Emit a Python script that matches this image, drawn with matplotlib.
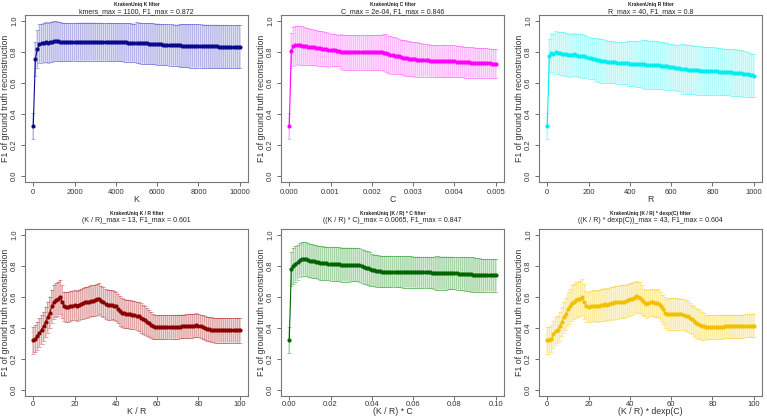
import numpy as np
import matplotlib
matplotlib.use("Agg")
import matplotlib.pyplot as plt

plt.rcParams['font.family'] = ['Liberation Sans', 'DejaVu Sans']

# parameter grids (101 thresholds per filter)
k_grid = np.linspace(0, 10000, 101)
c_grid = np.linspace(0, 0.005, 101)
r_grid = np.linspace(0, 1000, 101)
kr_grid = np.linspace(0, 100, 101)
krc_grid = np.linspace(0, 0.1, 101)
krd_grid = np.linspace(0, 100, 101)

# mean F1 and its sd
k_f1 = [0.320, 0.755, 0.820, 0.855, 0.858, 0.862, 0.865, 0.860, 0.864, 0.867,
        0.870, 0.872, 0.870, 0.868, 0.866, 0.866, 0.865, 0.865, 0.865, 0.866,
        0.866, 0.867, 0.867, 0.868, 0.868, 0.868, 0.868, 0.868, 0.868, 0.868,
        0.868, 0.867, 0.867, 0.867, 0.866, 0.866, 0.866, 0.866, 0.865, 0.865,
        0.865, 0.865, 0.864, 0.864, 0.863, 0.863, 0.862, 0.862, 0.861, 0.861,
        0.860, 0.859, 0.858, 0.857, 0.856, 0.856, 0.855, 0.855, 0.854, 0.853,
        0.852, 0.851, 0.850, 0.849, 0.848, 0.847, 0.846, 0.846, 0.845, 0.845,
        0.844, 0.843, 0.842, 0.842, 0.841, 0.841, 0.840, 0.840, 0.840, 0.839,
        0.839, 0.839, 0.838, 0.838, 0.838, 0.838, 0.837, 0.837, 0.837, 0.837,
        0.836, 0.836, 0.836, 0.836, 0.836, 0.835, 0.835, 0.835, 0.835, 0.835,
        0.835]
k_sd = [0.085, 0.110, 0.122, 0.125, 0.126, 0.127, 0.128, 0.128, 0.130, 0.130,
        0.130, 0.128, 0.127, 0.126, 0.125, 0.124, 0.124, 0.123, 0.123, 0.123,
        0.123, 0.123, 0.123, 0.123, 0.123, 0.123, 0.123, 0.123, 0.123, 0.123,
        0.123, 0.123, 0.123, 0.123, 0.123, 0.123, 0.123, 0.123, 0.123, 0.123,
        0.123, 0.123, 0.124, 0.124, 0.124, 0.124, 0.124, 0.124, 0.124, 0.124,
        0.132, 0.132, 0.132, 0.132, 0.132, 0.132, 0.132, 0.132, 0.132, 0.132,
        0.133, 0.133, 0.133, 0.133, 0.133, 0.133, 0.133, 0.133, 0.133, 0.133,
        0.134, 0.140, 0.140, 0.140, 0.140, 0.140, 0.140, 0.140, 0.140, 0.140,
        0.140, 0.140, 0.140, 0.140, 0.140, 0.140, 0.140, 0.140, 0.140, 0.140,
        0.140, 0.140, 0.140, 0.140, 0.140, 0.140, 0.140, 0.140, 0.140, 0.140,
        0.140]

c_f1 = [0.320, 0.810, 0.838, 0.845, 0.846, 0.844, 0.842, 0.840, 0.838, 0.836,
        0.834, 0.832, 0.830, 0.828, 0.826, 0.825, 0.822, 0.820, 0.818, 0.816,
        0.814, 0.812, 0.811, 0.810, 0.810, 0.802, 0.800, 0.799, 0.799, 0.798,
        0.798, 0.798, 0.798, 0.798, 0.798, 0.798, 0.798, 0.798, 0.798, 0.798,
        0.798, 0.798, 0.798, 0.798, 0.798, 0.798, 0.796, 0.792, 0.785, 0.782,
        0.780, 0.778, 0.775, 0.772, 0.768, 0.765, 0.762, 0.760, 0.758, 0.756,
        0.755, 0.754, 0.752, 0.750, 0.749, 0.748, 0.747, 0.746, 0.745, 0.744,
        0.743, 0.742, 0.742, 0.741, 0.741, 0.740, 0.740, 0.740, 0.740, 0.740,
        0.740, 0.739, 0.738, 0.737, 0.736, 0.735, 0.734, 0.733, 0.732, 0.732,
        0.731, 0.731, 0.730, 0.730, 0.730, 0.729, 0.728, 0.727, 0.726, 0.726,
        0.725]
c_sd = [0.085, 0.113, 0.125, 0.126, 0.126, 0.125, 0.124, 0.122, 0.120, 0.118,
        0.117, 0.116, 0.115, 0.114, 0.113, 0.112, 0.112, 0.111, 0.110, 0.110,
        0.105, 0.104, 0.103, 0.102, 0.102, 0.112, 0.113, 0.113, 0.113, 0.113,
        0.113, 0.113, 0.113, 0.113, 0.113, 0.113, 0.113, 0.113, 0.113, 0.113,
        0.113, 0.113, 0.113, 0.113, 0.113, 0.113, 0.118, 0.122, 0.122, 0.122,
        0.120, 0.118, 0.115, 0.112, 0.112, 0.115, 0.115, 0.114, 0.113, 0.112,
        0.112, 0.112, 0.111, 0.110, 0.108, 0.106, 0.105, 0.104, 0.104, 0.103,
        0.103, 0.103, 0.103, 0.103, 0.103, 0.103, 0.103, 0.103, 0.103, 0.103,
        0.103, 0.102, 0.101, 0.100, 0.100, 0.100, 0.099, 0.099, 0.098, 0.098,
        0.097, 0.097, 0.097, 0.097, 0.096, 0.096, 0.096, 0.096, 0.095, 0.095,
        0.095]

r_f1 = [0.320, 0.775, 0.795, 0.790, 0.800, 0.795, 0.792, 0.790, 0.788, 0.785,
        0.782, 0.780, 0.782, 0.785, 0.783, 0.778, 0.776, 0.774, 0.772, 0.768,
        0.762, 0.760, 0.758, 0.754, 0.750, 0.746, 0.744, 0.742, 0.740, 0.738,
        0.736, 0.735, 0.734, 0.733, 0.732, 0.731, 0.730, 0.729, 0.728, 0.727,
        0.726, 0.725, 0.725, 0.724, 0.723, 0.722, 0.721, 0.720, 0.719, 0.718,
        0.718, 0.717, 0.716, 0.715, 0.714, 0.713, 0.712, 0.710, 0.708, 0.706,
        0.705, 0.703, 0.700, 0.698, 0.696, 0.692, 0.690, 0.688, 0.687, 0.686,
        0.685, 0.684, 0.683, 0.682, 0.681, 0.680, 0.680, 0.679, 0.678, 0.678,
        0.677, 0.676, 0.675, 0.674, 0.673, 0.672, 0.671, 0.670, 0.670, 0.669,
        0.668, 0.667, 0.665, 0.664, 0.662, 0.660, 0.658, 0.656, 0.653, 0.650,
        0.648]
r_sd = [0.085, 0.110, 0.125, 0.130, 0.135, 0.138, 0.140, 0.140, 0.140, 0.140,
        0.138, 0.138, 0.138, 0.137, 0.137, 0.138, 0.140, 0.140, 0.140, 0.138,
        0.133, 0.132, 0.132, 0.140, 0.142, 0.142, 0.142, 0.140, 0.138, 0.137,
        0.137, 0.136, 0.136, 0.135, 0.135, 0.135, 0.135, 0.135, 0.136, 0.145,
        0.147, 0.147, 0.147, 0.147, 0.147, 0.147, 0.155, 0.157, 0.157, 0.157,
        0.157, 0.156, 0.156, 0.155, 0.154, 0.153, 0.152, 0.152, 0.150, 0.148,
        0.148, 0.147, 0.147, 0.147, 0.147, 0.162, 0.162, 0.161, 0.160, 0.159,
        0.159, 0.158, 0.158, 0.157, 0.157, 0.156, 0.156, 0.156, 0.155, 0.155,
        0.155, 0.154, 0.153, 0.152, 0.151, 0.150, 0.150, 0.150, 0.150, 0.150,
        0.150, 0.150, 0.150, 0.150, 0.149, 0.149, 0.147, 0.145, 0.143, 0.141,
        0.140]

kr_f1 = [0.320, 0.330, 0.350, 0.370, 0.390, 0.410, 0.440, 0.470, 0.500, 0.540,
         0.570, 0.580, 0.590, 0.601, 0.570, 0.540, 0.535, 0.535, 0.540, 0.545,
         0.550, 0.545, 0.550, 0.555, 0.560, 0.565, 0.565, 0.570, 0.575, 0.575,
         0.580, 0.585, 0.590, 0.575, 0.565, 0.555, 0.550, 0.550, 0.550, 0.545,
         0.540, 0.525, 0.510, 0.500, 0.495, 0.490, 0.490, 0.488, 0.485, 0.485,
         0.480, 0.475, 0.465, 0.455, 0.450, 0.440, 0.430, 0.420, 0.410, 0.405,
         0.405, 0.405, 0.405, 0.405, 0.406, 0.406, 0.406, 0.407, 0.407, 0.408,
         0.408, 0.409, 0.410, 0.410, 0.411, 0.412, 0.413, 0.414, 0.415, 0.418,
         0.415, 0.410, 0.405, 0.400, 0.395, 0.392, 0.390, 0.387, 0.385, 0.385,
         0.385, 0.385, 0.385, 0.385, 0.385, 0.385, 0.385, 0.385, 0.385, 0.385,
         0.385]
kr_sd = [0.087, 0.088, 0.090, 0.092, 0.094, 0.095, 0.098, 0.100, 0.103, 0.106,
         0.110, 0.110, 0.110, 0.110, 0.105, 0.095, 0.095, 0.095, 0.096, 0.096,
         0.097, 0.097, 0.098, 0.098, 0.099, 0.100, 0.100, 0.100, 0.100, 0.100,
         0.100, 0.100, 0.100, 0.098, 0.097, 0.097, 0.097, 0.096, 0.095, 0.095,
         0.095, 0.096, 0.096, 0.095, 0.093, 0.092, 0.092, 0.092, 0.091, 0.091,
         0.090, 0.092, 0.095, 0.095, 0.093, 0.090, 0.088, 0.085, 0.082, 0.078,
         0.077, 0.077, 0.077, 0.077, 0.077, 0.077, 0.077, 0.077, 0.077, 0.077,
         0.077, 0.077, 0.077, 0.077, 0.077, 0.077, 0.077, 0.077, 0.076, 0.076,
         0.076, 0.077, 0.078, 0.078, 0.079, 0.079, 0.080, 0.080, 0.080, 0.080,
         0.080, 0.080, 0.080, 0.080, 0.080, 0.080, 0.080, 0.080, 0.080, 0.080,
         0.080]

krc_f1 = [0.320, 0.780, 0.800, 0.815, 0.825, 0.840, 0.845, 0.847, 0.845, 0.840,
          0.835, 0.834, 0.830, 0.828, 0.825, 0.820, 0.820, 0.818, 0.818, 0.816,
          0.815, 0.815, 0.814, 0.813, 0.812, 0.810, 0.810, 0.810, 0.810, 0.810,
          0.810, 0.810, 0.810, 0.810, 0.806, 0.800, 0.795, 0.790, 0.785, 0.780,
          0.775, 0.772, 0.770, 0.768, 0.766, 0.765, 0.765, 0.765, 0.765, 0.765,
          0.765, 0.764, 0.764, 0.763, 0.763, 0.762, 0.762, 0.762, 0.762, 0.762,
          0.761, 0.761, 0.761, 0.760, 0.760, 0.760, 0.760, 0.760, 0.759, 0.758,
          0.756, 0.755, 0.755, 0.755, 0.755, 0.755, 0.755, 0.755, 0.755, 0.755,
          0.754, 0.753, 0.752, 0.751, 0.750, 0.750, 0.748, 0.747, 0.746, 0.745,
          0.744, 0.743, 0.742, 0.741, 0.740, 0.740, 0.740, 0.740, 0.740, 0.740,
          0.740]
krc_sd = [0.085, 0.110, 0.118, 0.115, 0.112, 0.108, 0.108, 0.108, 0.108, 0.108,
          0.108, 0.108, 0.108, 0.108, 0.108, 0.108, 0.108, 0.108, 0.108, 0.108,
          0.110, 0.110, 0.110, 0.110, 0.110, 0.110, 0.110, 0.110, 0.110, 0.110,
          0.108, 0.108, 0.108, 0.108, 0.108, 0.108, 0.108, 0.108, 0.110, 0.110,
          0.105, 0.103, 0.103, 0.102, 0.102, 0.102, 0.102, 0.102, 0.102, 0.102,
          0.101, 0.101, 0.101, 0.101, 0.101, 0.101, 0.101, 0.101, 0.101, 0.101,
          0.101, 0.101, 0.101, 0.101, 0.101, 0.101, 0.101, 0.101, 0.101, 0.101,
          0.102, 0.108, 0.108, 0.107, 0.107, 0.107, 0.107, 0.106, 0.106, 0.106,
          0.105, 0.105, 0.105, 0.106, 0.107, 0.108, 0.110, 0.110, 0.112, 0.112,
          0.110, 0.109, 0.108, 0.107, 0.106, 0.105, 0.105, 0.105, 0.105, 0.105,
          0.105]

krd_f1 = [0.320, 0.320, 0.330, 0.360, 0.380, 0.390, 0.410, 0.440, 0.470, 0.490,
          0.520, 0.540, 0.560, 0.570, 0.580, 0.585, 0.590, 0.600, 0.570, 0.540,
          0.535, 0.540, 0.545, 0.545, 0.540, 0.545, 0.550, 0.550, 0.555, 0.550,
          0.555, 0.560, 0.560, 0.565, 0.565, 0.570, 0.570, 0.570, 0.575, 0.580,
          0.585, 0.590, 0.595, 0.604, 0.600, 0.595, 0.580, 0.565, 0.555, 0.560,
          0.565, 0.565, 0.560, 0.560, 0.555, 0.540, 0.520, 0.500, 0.490, 0.490,
          0.490, 0.490, 0.490, 0.490, 0.490, 0.490, 0.485, 0.480, 0.475, 0.465,
          0.455, 0.445, 0.430, 0.425, 0.420, 0.415, 0.410, 0.405, 0.405, 0.405,
          0.405, 0.405, 0.405, 0.405, 0.405, 0.405, 0.410, 0.410, 0.410, 0.410,
          0.410, 0.410, 0.410, 0.410, 0.410, 0.410, 0.415, 0.415, 0.415, 0.415,
          0.415]
krd_sd = [0.087, 0.087, 0.088, 0.088, 0.089, 0.090, 0.092, 0.095, 0.100, 0.105,
          0.110, 0.112, 0.115, 0.115, 0.115, 0.115, 0.115, 0.117, 0.115, 0.100,
          0.097, 0.100, 0.100, 0.100, 0.102, 0.102, 0.102, 0.104, 0.104, 0.105,
          0.105, 0.105, 0.106, 0.106, 0.108, 0.108, 0.108, 0.107, 0.106, 0.105,
          0.105, 0.103, 0.102, 0.100, 0.100, 0.100, 0.095, 0.088, 0.088, 0.088,
          0.088, 0.088, 0.088, 0.090, 0.092, 0.093, 0.095, 0.098, 0.100, 0.102,
          0.102, 0.102, 0.101, 0.101, 0.100, 0.100, 0.100, 0.100, 0.098, 0.096,
          0.095, 0.097, 0.098, 0.095, 0.093, 0.090, 0.085, 0.078, 0.076, 0.076,
          0.076, 0.076, 0.076, 0.076, 0.076, 0.076, 0.076, 0.076, 0.076, 0.076,
          0.076, 0.076, 0.076, 0.076, 0.076, 0.076, 0.076, 0.076, 0.076, 0.076,
          0.076]

titles = ["KrakenUniq K filter", "KrakenUniq C filter", "KrakenUniq R filter",
          "KrakenUniq K / R filter", "KrakenUniq (K / R) * C filter",
          "KrakenUniq (K / R) * dexp(C) filter"]
subtitles = ["kmers_max = 1100, F1_max = 0.872",
             "C_max = 2e-04, F1_max = 0.846",
             "R_max = 40, F1_max = 0.8",
             "(K / R)_max = 13, F1_max = 0.601",
             "((K / R) * C)_max = 0.0065, F1_max = 0.847",
             "((K / R) * dexp(C))_max = 43, F1_max = 0.604"]
xlabels = ["K", "C", "R", "K / R", "(K / R) * C", "(K / R) * dexp(C)"]
xtick_vals = [[0, 2000, 4000, 6000, 8000, 10000],
              [0, 0.001, 0.002, 0.003, 0.004, 0.005],
              [0, 200, 400, 600, 800, 1000],
              [0, 20, 40, 60, 80, 100],
              [0, 0.02, 0.04, 0.06, 0.08, 0.10],
              [0, 20, 40, 60, 80, 100]]
xtick_fmt = ["{:.0f}", "{:.3f}", "{:.0f}", "{:.0f}", "{:.2f}", "{:.0f}"]
colors = ["#0a0a8c", "#ff00ff", "#00eeee", "#8b0000", "#006400", "#f2c000"]
bar_colors = ["#4848cc", "#ff50ff", "#40f4f4", "#b02020", "#209a20", "#f7cc10"]

grids = [k_grid, c_grid, r_grid, kr_grid, krc_grid, krd_grid]
means = [k_f1, c_f1, r_f1, kr_f1, krc_f1, krd_f1]
sds = [k_sd, c_sd, r_sd, kr_sd, krc_sd, krd_sd]

W, H = 767, 419
fig = plt.figure(figsize=(W / 100, H / 100), dpi=100)

# axes boxes in pixels: left, top, right, bottom
boxes = [(25, 15, 248, 182), (281, 15, 504, 182), (539, 15, 762, 182),
         (25, 229, 248, 396), (281, 229, 504, 396), (539, 229, 762, 396)]
title_y = [4.5, 213.5]
sub_y = [11.8, 221.0]
xlab_y = [199, 411]
tick_pad = [2.0, 0.5]

for i in range(6):
    row = i // 3
    l, t, r, b = boxes[i]
    ax = fig.add_axes([l / W, 1 - b / H, (r - l) / W, (b - t) / H])
    x = grids[i]
    m = np.array(means[i])
    s = np.array(sds[i])
    eb = ax.errorbar(x, m, yerr=s, fmt='none', ecolor=bar_colors[i],
                     alpha=0.4, elinewidth=1.1, capsize=1.3, capthick=0.7)
    for coll in eb[2]:
        coll.set_snap(False)
    ax.plot(x, m, '-o', color=colors[i], lw=0.8, ms=3.0, mew=0)

    xmax = x[-1]
    ax.set_xlim(-0.04 * xmax, 1.04 * xmax)
    ax.set_ylim(-0.04, 1.04)
    ax.set_xticks(xtick_vals[i])
    ax.set_xticklabels([xtick_fmt[i].format(v) for v in xtick_vals[i]])
    ax.set_yticks([0, 0.2, 0.4, 0.6, 0.8, 1.0])
    ax.set_yticklabels(["0.0", "0.2", "0.4", "0.6", "0.8", "1.0"],
                       rotation=90, va='center')
    ax.tick_params(length=3, width=0.6, color='#555555', labelsize=5.5,
                   labelcolor='#333333')
    ax.tick_params(axis='x', pad=tick_pad[row])
    ax.tick_params(axis='y', pad=2)
    for sp in ax.spines.values():
        sp.set_color('#777777')
        sp.set_linewidth(0.8)

    cx = (l + r) / 2 / W
    fig.text(cx, 1 - xlab_y[row] / H, xlabels[i], ha='center', va='center',
             fontsize=6.3, color='#333333')
    fig.text((l - 19) / W, 1 - (t + b) / 2 / H,
             "F1 of ground truth reconstruction", rotation=90,
             ha='center', va='center', fontsize=6.3, color='#333333')
    fig.text(cx, 1 - title_y[row] / H, titles[i], ha='center', va='center',
             fontsize=3.6, fontweight='bold', color='#222222')
    fig.text(cx, 1 - sub_y[row] / H, subtitles[i], ha='center', va='center',
             fontsize=5.0, color='#222222')

fig.savefig("out.png", dpi=100)
